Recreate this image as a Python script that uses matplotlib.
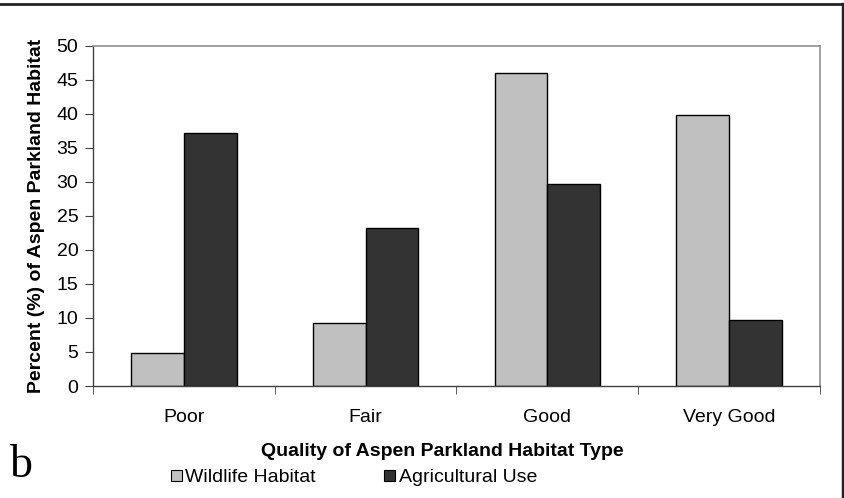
import numpy as np
import matplotlib
matplotlib.use("Agg")
import matplotlib.pyplot as plt
from matplotlib.patches import Patch
from matplotlib.lines import Line2D

plt.rcParams['font.family'] = ['Liberation Sans', 'DejaVu Sans']

# data
categories = ['Poor', 'Fair', 'Good', 'Very Good']
wildlife = [4.9, 9.3, 46.0, 39.8]
agricultural = [37.2, 23.3, 29.7, 9.7]
series_names = ['Wildlife Habitat', 'Agricultural Use']
y_ticks = [0, 5, 10, 15, 20, 25, 30, 35, 40, 45, 50]

W, H = 845, 498
fig = plt.figure(figsize=(W / 100, H / 100), dpi=100)
ax = fig.add_axes([93 / W, (H - 386) / H, 727 / W, 340 / H])

x = np.arange(len(categories))
bw = 0.29
c_wild = '#c0c0c0'
c_agri = '#333333'
ax.bar(x - bw / 2, wildlife, bw, color=c_wild, edgecolor='black', linewidth=1)
ax.bar(x + bw / 2, agricultural, bw, color=c_agri, edgecolor='black', linewidth=1)

fs = 14
ax.set_xlim(-0.5, len(categories) - 0.5)
ax.set_ylim(0, 50)
ax.set_yticks(y_ticks)
ax.set_xticks(x)
ax.set_xticklabels(categories)
ax.set_xticks(np.arange(-0.5, len(categories)), minor=True)
ax.tick_params(axis='x', which='major', length=0, pad=16.5, labelsize=fs)
ax.tick_params(axis='x', which='minor', length=6, direction='out', color='#404040')
ax.tick_params(axis='y', length=6, direction='out', labelsize=fs, color='#404040', pad=4.5)

for s in ['left', 'bottom']:
    ax.spines[s].set_color('#404040')
    ax.spines[s].set_linewidth(1)
for s in ['top', 'right']:
    ax.spines[s].set_color('#909090')
    ax.spines[s].set_linewidth(1.2)

ax.set_ylabel('Percent (%) of Aspen Parkland Habitat', fontsize=fs, fontweight='bold', labelpad=8)
fig.text(442 / W, 1 - 451 / H, 'Quality of Aspen Parkland Habitat Type',
         ha='center', va='center', fontsize=fs, fontweight='bold')

handles = [Patch(facecolor=c_wild, edgecolor='black', linewidth=0.8),
           Patch(facecolor=c_agri, edgecolor='black', linewidth=0.8)]
fig.legend(handles, series_names, loc='center', bbox_to_anchor=(354 / W, 1 - 478 / H),
           ncol=2, frameon=False, fontsize=fs, handlelength=0.55, handleheight=0.55,
           handletextpad=0.2, columnspacing=3.5, borderpad=0)

fig.text(10 / W, 1 - 466 / H, 'b', fontsize=33, family='Liberation Serif', va='center', ha='left')

# outer frame lines (top and right)
fig.add_artist(Line2D([0, 843 / W], [1 - 4 / H, 1 - 4 / H], color='#222222', linewidth=2,
                      transform=fig.transFigure))
fig.add_artist(Line2D([843 / W, 843 / W], [0, 1 - 4 / H], color='#222222', linewidth=2.5,
                      transform=fig.transFigure))

fig.savefig('out.png', dpi=100)
